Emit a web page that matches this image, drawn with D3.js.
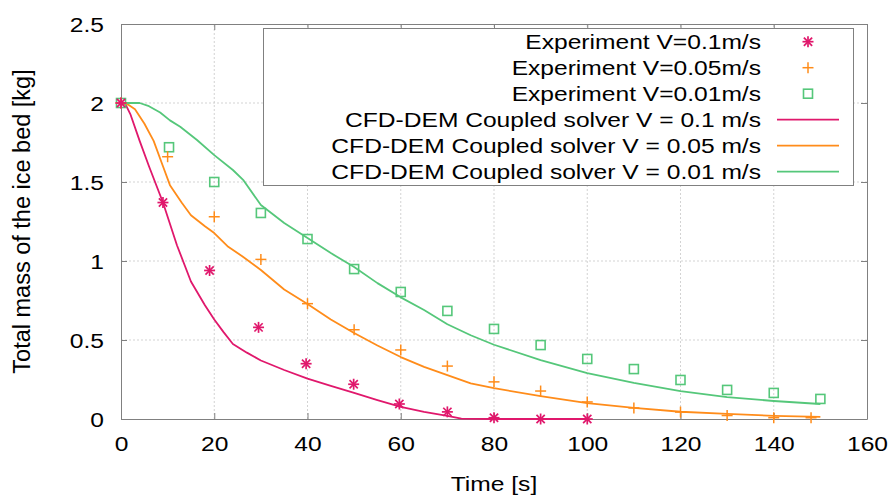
<!DOCTYPE html>
<html>
<head>
<meta charset="utf-8">
<script src="https://cdn.jsdelivr.net/npm/d3@7"></script>
<style>
  body { margin: 0; background: #fff; }
  svg { display: block; font-family: "Liberation Sans", Arial, sans-serif; }
</style>
</head>
<body>
<svg id="chart" width="892" height="496"></svg>
<script>
// experiment data (time [s], mass [kg])
var exp01 = [[0,2.0],[9,1.37],[19,0.94],[29.5,0.58],[39.7,0.35],[49.9,0.22],[59.7,0.095],[70,0.045],[80,0.008],[90,0.0],[100,0.0]];
var exp005 = [[0,2.0],[10,1.66],[20,1.28],[30,1.01],[40,0.73],[50,0.565],[60,0.437],[70,0.335],[80,0.235],[90,0.177],[100,0.108],[110,0.07],[120,0.044],[130,0.022],[140,0.008],[148,0.008]];
var exp001 = [[0,2.0],[10.3,1.72],[20,1.50],[30,1.304],[40,1.139],[50,0.949],[60,0.804],[70,0.684],[80,0.57],[90,0.468],[100,0.38],[110,0.316],[120,0.247],[130,0.184],[140,0.165],[150,0.127]];

// CFD-DEM solver curves
var cfd01 = [[0,2.0],[1,1.99],[2,1.93],[4,1.76],[6,1.6],[9,1.37],[12,1.1],[15,0.87],[18,0.72],[20,0.63],[22,0.55],[24,0.475],[27,0.42],[30,0.37],[35,0.31],[40,0.255],[45,0.21],[50,0.165],[55,0.12],[60,0.077],[65,0.045],[70,0.02],[73,0.002],[80,0],[90,0],[100,0]];
var cfd005 = [[0,2.0],[1.5,1.99],[3,1.96],[5,1.87],[7,1.76],[9,1.6],[10.5,1.48],[13,1.37],[15,1.29],[18,1.22],[20,1.177],[23,1.09],[26,1.03],[30,0.943],[35,0.82],[40,0.728],[45,0.63],[50,0.544],[55,0.465],[60,0.392],[65,0.33],[70,0.278],[75,0.225],[80,0.195],[90,0.145],[100,0.10],[110,0.07],[120,0.046],[130,0.032],[140,0.02],[150,0.013]];
var cfd001 = [[0,2.0],[4,2.0],[6,1.98],[8.4,1.94],[10.5,1.89],[12.7,1.85],[16.3,1.766],[20,1.67],[24,1.576],[26.3,1.51],[30,1.354],[35,1.24],[40,1.146],[45,1.05],[50,0.962],[55,0.86],[60,0.77],[65,0.69],[70,0.6],[75,0.53],[80,0.47],[90,0.373],[100,0.291],[110,0.228],[120,0.177],[130,0.139],[140,0.114],[150,0.095]];

var xTicks = [0,20,40,60,80,100,120,140,160];
var yTicks = [0,0.5,1,1.5,2,2.5];

var cPink = "#e0186c", cOrange = "#ff8c1a", cGreen = "#55c77a";
var fs = 20.5, sx = 1.2;   // text looks horizontally stretched in the original

var svg = d3.select("#chart");
var x = d3.scaleLinear().domain([0,160]).range([121,867]);
var y = d3.scaleLinear().domain([0,2.5]).range([419,24]);

function stretch(sel) {
  sel.each(function() {
    var t = d3.select(this);
    var x0 = +t.attr("x") || 0;
    t.attr("x", x0 / sx).attr("transform", "scale(" + sx + ",1)");
  });
}

// grid
svg.append("g").selectAll("line.gx").data(xTicks.slice(1,-1)).enter().append("line")
  .attr("x1", d => x(d)).attr("x2", d => x(d)).attr("y1", y(0)).attr("y2", y(2.5))
  .attr("stroke", "#c8c8c8").attr("stroke-width", 0.8).attr("stroke-dasharray", "2,2");
svg.append("g").selectAll("line.gy").data(yTicks.slice(1,-1)).enter().append("line")
  .attr("x1", x(0)).attr("x2", x(160)).attr("y1", d => y(d)).attr("y2", d => y(d))
  .attr("stroke", "#c8c8c8").attr("stroke-width", 0.8).attr("stroke-dasharray", "2,2");

// axes (ticks inside, mirrored)
var axB = svg.append("g").attr("transform", "translate(0," + y(0) + ")")
  .call(d3.axisBottom(x).tickValues(xTicks).tickSizeInner(-6).tickSizeOuter(0).tickFormat(d3.format("d")));
var axL = svg.append("g").attr("transform", "translate(" + x(0) + ",0)")
  .call(d3.axisLeft(y).tickValues(yTicks).tickSizeInner(-6).tickSizeOuter(0).tickPadding(17).tickFormat(d => String(d)));
var axT = svg.append("g").attr("transform", "translate(0," + y(2.5) + ")")
  .call(d3.axisTop(x).tickValues(xTicks).tickSizeInner(-6).tickSizeOuter(0).tickFormat(""));
var axR = svg.append("g").attr("transform", "translate(" + x(160) + ",0)")
  .call(d3.axisRight(y).tickValues(yTicks).tickSizeInner(-6).tickSizeOuter(0).tickFormat(""));
[axB, axL, axT, axR].forEach(function(a) {
  a.selectAll("path, line").attr("stroke", "#808080");
  a.selectAll("text").attr("font-size", fs).attr("fill", "#000").attr("font-family", "Liberation Sans, Arial, sans-serif");
});
axB.selectAll("text").attr("y", 32).attr("dy", 0);
axL.selectAll("text").attr("dy", "0.36em");
axB.selectAll("text").call(stretch);
axL.selectAll("text").call(stretch);

// titles
svg.append("text").attr("x", (x(0)+x(160))/2).attr("y", 491).attr("text-anchor", "middle")
  .attr("font-size", fs).text("Time [s]").call(stretch);
svg.append("text").attr("transform", "translate(30," + (y(0)+y(2.5))/2 + ") rotate(-90)")
  .attr("text-anchor", "middle").attr("font-size", 23.5).text("Total mass of the ice bed [kg]");

// curves
var line = d3.line().x(d => x(d[0])).y(d => y(d[1]));
[[cfd01, cPink], [cfd005, cOrange], [cfd001, cGreen]].forEach(function(s) {
  svg.append("path").datum(s[0]).attr("d", line).attr("fill", "none")
    .attr("stroke", s[1]).attr("stroke-width", 1.8).attr("stroke-linejoin", "round");
});

// markers
function asterisk(g, color) {
  var r = 5.5;
  g.append("line").attr("x1", -r).attr("x2", r).attr("y1", 0).attr("y2", 0);
  g.append("line").attr("x1", 0).attr("x2", 0).attr("y1", -r).attr("y2", r);
  g.append("line").attr("x1", -r*0.75).attr("x2", r*0.75).attr("y1", -r*0.75).attr("y2", r*0.75);
  g.append("line").attr("x1", -r*0.75).attr("x2", r*0.75).attr("y1", r*0.75).attr("y2", -r*0.75);
  g.selectAll("line").attr("stroke", color).attr("stroke-width", 1.7);
}
function plus(g, color) {
  var r = 5.5;
  g.append("line").attr("x1", -r).attr("x2", r).attr("y1", 0).attr("y2", 0);
  g.append("line").attr("x1", 0).attr("x2", 0).attr("y1", -r).attr("y2", r);
  g.selectAll("line").attr("stroke", color).attr("stroke-width", 1.5);
}
function square(g, color) {
  g.append("rect").attr("x", -4.5).attr("y", -4.5).attr("width", 9).attr("height", 9)
    .attr("fill", "none").attr("stroke", color).attr("stroke-width", 1.6);
}
function drawPoints(data, fn, color) {
  svg.append("g").selectAll("g").data(data).enter().append("g")
    .attr("transform", d => "translate(" + x(d[0]) + "," + y(d[1]) + ")")
    .each(function() { fn(d3.select(this), color); });
}
drawPoints(exp001, square, cGreen);
drawPoints(exp005, plus, cOrange);
drawPoints(exp01, asterisk, cPink);

// legend
var legendItems = [
  {label: "Experiment V=0.1m/s", type: "pt", fn: asterisk, color: cPink},
  {label: "Experiment V=0.05m/s", type: "pt", fn: plus, color: cOrange},
  {label: "Experiment V=0.01m/s", type: "pt", fn: square, color: cGreen},
  {label: "CFD-DEM Coupled solver V = 0.1 m/s", type: "ln", color: cPink},
  {label: "CFD-DEM Coupled solver V = 0.05 m/s", type: "ln", color: cOrange},
  {label: "CFD-DEM Coupled solver V = 0.01 m/s", type: "ln", color: cGreen}
];
var lg = svg.append("g");
lg.append("rect").attr("x", 263.5).attr("y", 28.5).attr("width", 590).attr("height", 157)
  .attr("fill", "#fff").attr("stroke", "#808080").attr("stroke-width", 1);
legendItems.forEach(function(it, i) {
  var cy = 41.7 + i * 26;
  lg.append("text").attr("x", 761).attr("y", cy).attr("dy", "0.36em").attr("text-anchor", "end")
    .attr("font-size", fs).text(it.label).call(stretch);
  if (it.type === "pt") {
    var g = lg.append("g").attr("transform", "translate(808," + cy + ")");
    it.fn(g, it.color);
  } else {
    lg.append("line").attr("x1", 777).attr("x2", 839).attr("y1", cy).attr("y2", cy)
      .attr("stroke", it.color).attr("stroke-width", 1.8);
  }
});
</script>
</body>
</html>
